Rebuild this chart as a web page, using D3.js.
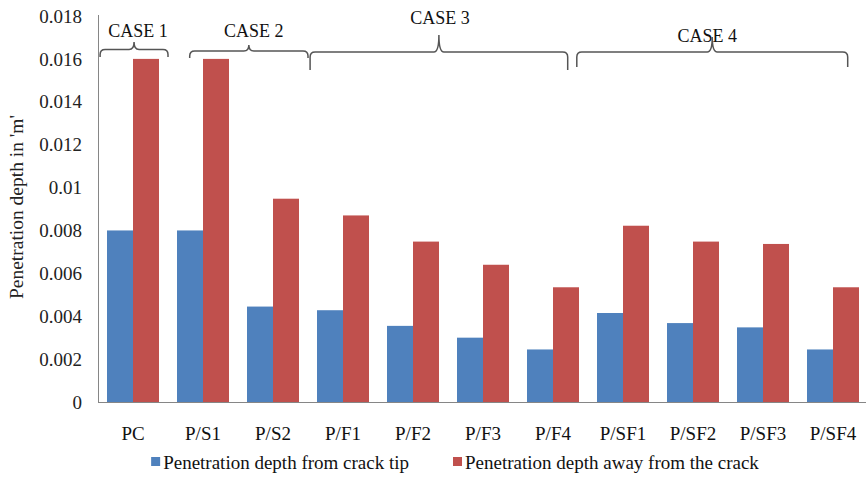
<!DOCTYPE html>
<html>
<head>
<meta charset="utf-8">
<script src="https://cdn.jsdelivr.net/npm/d3@7/dist/d3.min.js"></script>
<style>
  html, body { margin: 0; padding: 0; background: #fff; }
  svg { display: block; font-family: "Liberation Serif", "Times New Roman", serif; }
</style>
</head>
<body>
<svg id="chart" width="866" height="479"></svg>
<script>
// Specimen groups along the x axis
const categories = ["PC", "P/S1", "P/S2", "P/F1", "P/F2", "P/F3", "P/F4",
                    "P/SF1", "P/SF2", "P/SF3", "P/SF4"];

// Penetration depth (m) measured at the crack tip
const fromCrackTip = [0.0080, 0.0080, 0.00445, 0.00428, 0.00355, 0.00300, 0.00245,
                      0.00415, 0.00368, 0.00348, 0.00245];

// Penetration depth (m) measured away from the crack
const awayFromCrack = [0.0160, 0.0160, 0.00948, 0.00870, 0.00748, 0.00640, 0.00535,
                       0.00822, 0.00748, 0.00737, 0.00535];

const seriesNames = ["Penetration depth from crack tip", "Penetration depth away from the crack"];
const yTicks = [0, 0.002, 0.004, 0.006, 0.008, 0.01, 0.012, 0.014, 0.016, 0.018];

// Case groupings drawn as braces above the bars (spans in category units)
const caseLabels = ["CASE 1", "CASE 2", "CASE 3", "CASE 4"];
const caseFrom = [0.03, 1.31, 3.03, 6.84];
const caseTo   = [1.00, 3.00, 6.71, 10.71];

// ---- layout ----
const colors = ["#4F81BD", "#C0504D"];
const axisColor = "#868686";
const fontSize = 19;
const plot = { left: 98, right: 868, top: 16, bottom: 402 };

// brace geometry per case: line y, end-hook y, tip y, label baseline, label dx
const braceLayout = [
  { line: 49.5, end: 57, tip: 42, label: 37, labelDx: 4 },
  { line: 51,   end: 58, tip: 45, label: 37, labelDx: 5 },
  { line: 52,   end: 70, tip: 35, label: 24, labelDx: 1 },
  { line: 52,   end: 67, tip: 37, label: 42, labelDx: -5 }
];

const svg = d3.select("#chart");

const x = d3.scaleBand()
  .domain(categories)
  .range([plot.left, plot.right])
  .paddingInner(18 / 70)
  .paddingOuter(9 / 70);

const xs = d3.scaleBand()
  .domain([0, 1])
  .range([0, x.bandwidth()]);

const y = d3.scaleLinear()
  .domain([0, 0.018])
  .range([plot.bottom, plot.top]);

// bars
const groups = svg.append("g")
  .selectAll("g")
  .data(categories)
  .join("g")
  .attr("transform", d => `translate(${x(d)},0)`);

groups.selectAll("rect")
  .data((d, i) => [fromCrackTip[i], awayFromCrack[i]])
  .join("rect")
  .attr("x", (d, j) => xs(j))
  .attr("width", xs.bandwidth())
  .attr("y", d => y(d))
  .attr("height", d => y(0) - y(d))
  .attr("fill", (d, j) => colors[j]);

// y axis line and labels
svg.append("line")
  .attr("x1", plot.left + 0.5).attr("x2", plot.left + 0.5)
  .attr("y1", y(0.018) - 1).attr("y2", plot.bottom + 0.5)
  .attr("stroke", axisColor).attr("stroke-width", 1);

svg.append("g")
  .selectAll("text")
  .data(yTicks)
  .join("text")
  .attr("x", 82)
  .attr("y", d => y(d))
  .attr("dy", "0.35em")
  .attr("text-anchor", "end")
  .attr("font-size", fontSize)
  .attr("fill", "#222")
  .text(d => d === 0 ? "0" : String(+d.toFixed(3)));

// x axis line and labels
svg.append("line")
  .attr("x1", plot.left).attr("x2", 866)
  .attr("y1", plot.bottom + 0.5).attr("y2", plot.bottom + 0.5)
  .attr("stroke", axisColor).attr("stroke-width", 1);

svg.append("g")
  .selectAll("text")
  .data(categories)
  .join("text")
  .attr("x", d => x(d) + x.bandwidth() / 2)
  .attr("y", 440)
  .attr("text-anchor", "middle")
  .attr("font-size", fontSize)
  .attr("fill", "#111")
  .text(d => d);

// y axis title
svg.append("text")
  .attr("transform", "translate(23,207) rotate(-90)")
  .attr("text-anchor", "middle")
  .attr("font-size", 19.5)
  .attr("fill", "#222")
  .text("Penetration depth in 'm'");

// case braces
const catPos = k => plot.left + x.step() * k;

function bracePath(x0, x1, L) {
  const cx = (x0 + x1) / 2;
  const r = 5;
  return [
    `M${x0},${L.end}`,
    `L${x0},${L.line + r}`,
    `Q${x0},${L.line} ${x0 + r},${L.line}`,
    `L${cx - r},${L.line}`,
    `Q${cx},${L.line} ${cx},${L.tip}`,
    `Q${cx},${L.line} ${cx + r},${L.line}`,
    `L${x1 - r},${L.line}`,
    `Q${x1},${L.line} ${x1},${L.line + r}`,
    `L${x1},${L.end}`
  ].join(" ");
}

const braces = svg.append("g");
caseLabels.forEach((label, i) => {
  const x0 = catPos(caseFrom[i]);
  const x1 = catPos(caseTo[i]);
  const L = braceLayout[i];
  braces.append("path")
    .attr("d", bracePath(x0, x1, L))
    .attr("fill", "none")
    .attr("stroke", "#555")
    .attr("stroke-width", 1.5);
  braces.append("text")
    .attr("x", (x0 + x1) / 2 + L.labelDx)
    .attr("y", L.label)
    .attr("text-anchor", "middle")
    .attr("font-size", 18)
    .attr("fill", "#111")
    .text(label);
});

// legend
const legend = svg.append("g");
let cursor = 0;
seriesNames.forEach((name, i) => {
  const g = legend.append("g");
  g.append("rect")
    .attr("x", 0).attr("y", -12)
    .attr("width", 9).attr("height", 9)
    .attr("fill", colors[i]);
  const t = g.append("text")
    .attr("x", 12).attr("y", 0)
    .attr("font-size", fontSize)
    .attr("fill", "#111")
    .text(name);
  const w = 12 + t.node().getComputedTextLength();
  g.attr("transform", `translate(${cursor},0)`);
  cursor += w + 44;
});
const legendWidth = cursor - 44;
legend.attr("transform", `translate(${455 - legendWidth / 2},469)`);
</script>
</body>
</html>
